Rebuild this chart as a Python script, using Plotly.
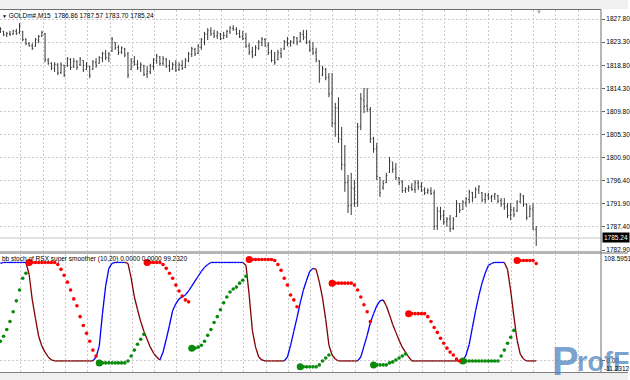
import plotly.graph_objects as go

W, H = 630, 380
ML, MR, MT, MB = 0, 27, 10, 8
PW = W - ML - MR
PH = H - MT - MB


def fx(px):
    return (px - ML) / PW


def fy(py):
    return (H - MB - py) / PH


# ---------------- data (GOLDm#, M15) ----------------
bar_open = [
    1825.3, 1825.4, 1824.7, 1825.0, 1824.9, 1825.4, 1825.1, 1825.3, 1823.8, 1823.0,
    1822.6, 1822.5, 1823.7, 1824.5, 1824.9, 1819.8, 1819.2, 1818.2, 1819.0, 1817.4,
    1818.8, 1818.7, 1819.9, 1818.5, 1819.5, 1818.9, 1819.7, 1818.0, 1818.6, 1818.0,
    1819.4, 1819.2, 1820.2, 1821.0, 1820.2, 1821.6, 1823.2, 1822.3, 1821.4, 1822.0,
    1821.0, 1818.0, 1819.5, 1819.0, 1818.4, 1818.7, 1817.1, 1817.5, 1818.6, 1819.7,
    1820.4, 1819.2, 1820.0, 1818.7, 1818.1, 1818.9, 1818.0, 1818.8, 1818.4, 1819.7,
    1820.9, 1821.9, 1821.1, 1822.3, 1823.3, 1824.8, 1825.5, 1825.0, 1824.5, 1824.9,
    1824.1, 1824.5, 1825.3, 1826.0, 1825.8, 1825.0, 1824.4, 1824.0, 1822.6, 1821.4,
    1820.8, 1822.1, 1823.2, 1823.8, 1822.7, 1821.3, 1819.7, 1819.9, 1821.1, 1822.0,
    1823.3, 1823.0, 1823.3, 1824.1, 1823.4, 1824.8, 1824.3, 1823.4, 1822.0, 1821.3,
    1819.6, 1816.9, 1818.0, 1816.5, 1813.4, 1807.5, 1810.5, 1804.4, 1799.4, 1796.1,
    1791.6, 1794.8, 1792.2, 1806.9, 1812.0, 1810.9, 1810.2, 1804.6, 1802.6, 1797.0,
    1795.0, 1796.0, 1798.0, 1800.0, 1798.8, 1796.9, 1796.1, 1794.5, 1794.7, 1795.0,
    1794.6, 1795.9, 1795.3, 1794.6, 1794.1, 1794.4, 1794.0, 1787.6, 1790.4, 1789.6,
    1788.5, 1789.0, 1787.1, 1789.4, 1791.9, 1790.8, 1792.1, 1792.7, 1794.0, 1793.2,
    1794.6, 1794.0, 1792.7, 1793.5, 1793.1, 1793.3, 1793.5, 1792.5, 1791.9, 1791.3,
    1789.7, 1790.7, 1790.5, 1792.3, 1793.4, 1791.7, 1789.4, 1790.8, 1786.86,
]
bar_high = [
    1826.2, 1825.5, 1825.3, 1825.5, 1825.7, 1825.9, 1827.0, 1825.5, 1824.1, 1823.3,
    1823.1, 1824.1, 1824.7, 1825.5, 1825.1, 1820.2, 1819.4, 1819.4, 1819.2, 1819.4,
    1818.9, 1820.4, 1820.2, 1820.2, 1819.8, 1820.4, 1819.8, 1819.4, 1818.7, 1819.8,
    1820.2, 1820.6, 1821.4, 1821.8, 1821.4, 1824.3, 1823.3, 1822.7, 1822.5, 1822.2,
    1821.4, 1820.2, 1820.6, 1819.8, 1819.4, 1818.9, 1818.7, 1819.1, 1820.2, 1821.0,
    1820.6, 1820.6, 1820.2, 1819.8, 1819.4, 1819.8, 1819.4, 1819.8, 1820.2, 1821.4,
    1822.4, 1822.2, 1822.9, 1824.1, 1825.3, 1826.0, 1826.2, 1825.7, 1825.5, 1825.1,
    1825.3, 1825.7, 1826.4, 1826.6, 1826.2, 1825.7, 1825.5, 1825.1, 1823.1, 1822.4,
    1822.7, 1823.7, 1824.3, 1824.1, 1823.3, 1821.8, 1821.4, 1821.8, 1822.2, 1823.7,
    1824.3, 1823.7, 1824.5, 1824.3, 1825.3, 1825.7, 1825.7, 1823.7, 1823.3, 1822.2,
    1819.8, 1818.7, 1818.3, 1817.3, 1817.3, 1811.5, 1812.6, 1806.8, 1803.3, 1797.5,
    1797.9, 1796.5, 1807.6, 1813.4, 1814.4, 1814.4, 1810.7, 1804.9, 1803.7, 1797.1,
    1796.5, 1797.9, 1801.0, 1800.0, 1799.8, 1797.1, 1796.5, 1795.1, 1795.5, 1795.9,
    1796.5, 1796.5, 1796.1, 1795.1, 1794.9, 1795.1, 1794.6, 1791.3, 1791.3, 1790.7,
    1789.3, 1789.7, 1789.3, 1792.6, 1792.0, 1792.6, 1793.2, 1794.6, 1794.2, 1795.1,
    1795.5, 1794.2, 1794.0, 1794.0, 1793.6, 1794.0, 1793.6, 1793.0, 1793.0, 1792.0,
    1792.0, 1791.3, 1792.6, 1794.0, 1793.6, 1792.0, 1791.6, 1792.0, 1787.57,
]
bar_low = [
    1825.1, 1824.5, 1824.3, 1824.5, 1824.7, 1824.7, 1824.9, 1823.5, 1822.7, 1822.4,
    1821.8, 1822.4, 1823.1, 1824.3, 1819.4, 1818.9, 1817.9, 1817.5, 1816.9, 1817.1,
    1816.5, 1818.5, 1817.9, 1818.3, 1817.9, 1818.7, 1817.5, 1817.9, 1816.3, 1817.9,
    1818.3, 1819.1, 1819.4, 1819.8, 1819.4, 1821.4, 1821.8, 1820.8, 1821.0, 1820.4,
    1816.3, 1817.9, 1818.7, 1817.9, 1817.5, 1816.7, 1816.3, 1817.1, 1817.9, 1819.1,
    1818.7, 1818.7, 1818.3, 1817.5, 1817.9, 1817.5, 1817.7, 1817.9, 1818.3, 1819.4,
    1820.4, 1820.6, 1821.0, 1821.8, 1822.7, 1823.7, 1824.5, 1824.1, 1823.9, 1823.7,
    1823.9, 1824.1, 1824.9, 1825.5, 1824.7, 1824.1, 1823.7, 1822.2, 1820.8, 1820.2,
    1820.6, 1821.8, 1822.5, 1822.4, 1820.8, 1819.4, 1818.9, 1819.8, 1820.2, 1821.8,
    1822.5, 1822.4, 1822.9, 1822.7, 1823.3, 1823.7, 1822.9, 1821.4, 1820.8, 1819.4,
    1815.4, 1816.7, 1815.9, 1812.6, 1806.8, 1804.9, 1803.7, 1798.4, 1794.2, 1790.1,
    1789.7, 1791.3, 1791.3, 1806.2, 1809.5, 1809.7, 1803.7, 1801.8, 1796.5, 1793.2,
    1794.6, 1795.9, 1797.9, 1797.9, 1796.5, 1795.5, 1794.0, 1794.0, 1794.2, 1794.4,
    1794.0, 1794.6, 1794.2, 1793.6, 1793.8, 1793.6, 1786.8, 1786.8, 1788.7, 1787.8,
    1787.4, 1786.4, 1786.8, 1789.3, 1790.1, 1790.7, 1791.3, 1792.0, 1792.2, 1793.0,
    1793.8, 1792.2, 1792.0, 1792.6, 1792.2, 1792.6, 1792.0, 1791.3, 1790.7, 1789.1,
    1788.7, 1789.3, 1790.3, 1792.0, 1791.3, 1788.7, 1789.3, 1786.8, 1783.70,
]
bar_close = [
    1825.9, 1824.7, 1825.0, 1824.8, 1825.5, 1825.0, 1826.6, 1823.8, 1823.0, 1822.6,
    1822.1, 1823.8, 1824.4, 1825.2, 1819.9, 1819.2, 1818.3, 1819.0, 1817.3, 1818.9,
    1816.9, 1820.0, 1818.4, 1819.6, 1818.4, 1820.0, 1817.9, 1818.8, 1816.8, 1819.5,
    1818.8, 1820.3, 1821.1, 1820.3, 1821.0, 1823.9, 1822.2, 1821.3, 1822.2, 1820.8,
    1816.9, 1819.6, 1819.0, 1818.3, 1818.9, 1817.0, 1817.6, 1818.7, 1819.8, 1820.6,
    1819.1, 1820.1, 1818.6, 1818.0, 1819.0, 1817.9, 1818.9, 1818.2, 1819.8, 1821.0,
    1822.0, 1821.0, 1822.6, 1823.8, 1824.9, 1825.6, 1824.9, 1824.5, 1825.1, 1824.0,
    1824.6, 1825.4, 1826.1, 1825.8, 1825.0, 1824.3, 1824.0, 1822.5, 1821.3, 1820.6,
    1822.2, 1823.3, 1823.9, 1822.6, 1821.2, 1819.8, 1819.3, 1821.2, 1820.6, 1823.4,
    1823.0, 1823.4, 1824.2, 1823.3, 1824.9, 1824.2, 1823.3, 1821.9, 1821.2, 1819.9,
    1816.2, 1818.2, 1816.4, 1813.2, 1807.6, 1810.6, 1804.6, 1799.5, 1796.0, 1791.5,
    1795.0, 1792.0, 1806.8, 1812.3, 1810.8, 1810.3, 1804.5, 1802.5, 1797.2, 1794.0,
    1795.8, 1797.4, 1800.2, 1798.6, 1797.0, 1796.0, 1794.5, 1794.8, 1795.1, 1794.7,
    1796.0, 1795.2, 1794.5, 1794.0, 1794.5, 1793.9, 1787.5, 1790.5, 1789.5, 1788.4,
    1788.9, 1787.0, 1788.8, 1792.0, 1790.6, 1792.2, 1792.8, 1794.2, 1793.0, 1794.7,
    1795.2, 1792.6, 1793.6, 1793.0, 1793.4, 1793.8, 1792.4, 1791.8, 1791.2, 1789.6,
    1790.8, 1789.8, 1792.2, 1793.6, 1791.8, 1789.2, 1790.9, 1787.0, 1785.24,
]

# bb stoch of RSX super smoother: main line
osc_line = (
    [99] + [100] * 8 + [88, 62, 43, 25, 15, 9, 4, 1] + [0] * 13
    + [4, 15, 48, 76, 94, 99] + [100] * 4
    + [99, 84, 65, 52, 40, 30, 22, 14, 8, 4, 1]
    + [9, 22, 36, 51, 58, 63, 65, 67, 71, 76, 81, 86, 91, 95, 98] + [100] * 11
    + [97, 67, 31, 14, 4, 1] + [0] * 7
    + [4, 16, 30, 44, 59, 72, 82, 91, 94]
    + [93, 80, 64, 42, 16, 6, 2] + [0] * 7
    + [4, 15, 26, 39, 48, 56, 61, 62]
    + [56, 47, 37, 29, 21, 14, 9, 4] + [0] * 17
    + [6, 17, 34, 51, 66, 79, 89, 97, 99] + [100] * 4
    + [93, 71, 45, 21, 7, 2] + [0] * 4
)
# green dots (rising band)
dots_up = (
    [20, 25, 32, 40, 50, 61, 72, 84, 89] + [None] * 22
    + [-2] * 9 + [0, 5, 11, 17, 22, 27] + [None] * 14
    + [13, 13, 14, 16, 20, 26, 32, 39, 45, 52, 59, 65, 70, 73, 75, 79, 82, 86] + [None] * 16
    + [-6] * 6 + [-4, 0, 3, 6] + [None] * 13
    + [-4] * 5 + [-2, -1, 1, 3, 5, 7] + [None] * 17
    + [0] * 12 + [5, 11, 18, 24, 31] + [None] * 7
)
# red dots (falling band)
dots_down = (
    [None] * 9 + [100] * 9 + [98, 93, 87, 80, 72, 63, 56, 45, 36, 28, 20, 11, 5]
    + [None] * 15 + [100] * 5 + [98, 94, 89, 84, 77, 71, 66, 62, 60]
    + [None] * 18 + [103] * 8 + [102, 98, 92, 84, 77, 67, 62, 55]
    + [None] * 10 + [79] * 7 + [77, 72, 65, 57, 50, 40]
    + [None] * 11 + [48] * 6 + [45, 40, 34, 29, 23, 18, 13, 9, 6, 2, 0]
    + [None] * 17 + [102] * 6 + [99]
)

price_ticks = [1827.8, 1823.3, 1818.8, 1814.3, 1809.8, 1805.3, 1800.9, 1796.4, 1791.9, 1787.4, 1782.9]
price_tick_text = ["1827.80", "1823.30", "1818.80", "1814.30", "1809.80", "1805.30",
                   "1800.90", "1796.40", "1791.90", "1787.40", "1782.90"]
osc_max, osc_min = 108.5951, -11.2312
last_price = 1785.24

N = len(bar_close)
assert all(len(a) == N for a in (bar_open, bar_high, bar_low, osc_line, dots_up, dots_down)), \
    [len(a) for a in (bar_open, bar_high, bar_low, bar_close, osc_line, dots_up, dots_down)]
idx = list(range(N))

FONT = "Liberation Sans"
BAR = "#383838"
GRID = "#cbcbcb"
X_RANGE = [-0.125, 188.3125]
WM = "rgba(70,128,188,0.72)"

fig = go.Figure()

fig.add_trace(go.Ohlc(
    x=idx, open=bar_open, high=bar_high, low=bar_low, close=bar_close,
    increasing=dict(line=dict(color=BAR, width=1)),
    decreasing=dict(line=dict(color=BAR, width=1)),
    tickwidth=0.3, xaxis="x", yaxis="y", hoverinfo="skip", showlegend=False,
))

# colour line segments: blue when rising, maroon when falling
up_x, up_y, dn_x, dn_y = [], [], [], []
trend = "up"
for i in range(N - 1):
    a, b = osc_line[i], osc_line[i + 1]
    if b > a:
        trend = "up"
    elif b < a:
        trend = "dn"
    if trend == "up":
        up_x += [i, i + 1, None]; up_y += [a, b, None]
    else:
        dn_x += [i, i + 1, None]; dn_y += [a, b, None]

fig.add_trace(go.Scatter(x=up_x, y=up_y, mode="lines", line=dict(color="#0000ff", width=1.3),
                         xaxis="x2", yaxis="y2", hoverinfo="skip", showlegend=False))
fig.add_trace(go.Scatter(x=dn_x, y=dn_y, mode="lines", line=dict(color="#800000", width=1.3),
                         xaxis="x2", yaxis="y2", hoverinfo="skip", showlegend=False))


def dot_traces(vals, color):
    xs = [i for i, v in enumerate(vals) if v is not None]
    ys = [vals[i] for i in xs]
    bx = [i for i in xs if i > 0 and vals[i - 1] is None]
    by = [vals[i] for i in bx]
    fig.add_trace(go.Scatter(x=xs, y=ys, mode="markers", marker=dict(color=color, size=3.6, line=dict(width=0)),
                             xaxis="x2", yaxis="y2", hoverinfo="skip", showlegend=False))
    fig.add_trace(go.Scatter(x=bx, y=by, mode="markers", marker=dict(color=color, size=7, line=dict(width=0)),
                             xaxis="x2", yaxis="y2", hoverinfo="skip", showlegend=False))


dot_traces(dots_up, "#0a8a0a")
dot_traces(dots_down, "#ff0000")

grid_x = dict(showticklabels=False, showgrid=True, gridcolor=GRID, griddash="2px,2px", gridwidth=1,
              tick0=6.4375, dtick=6.9875, ticks="", zeroline=False, showline=False,
              range=X_RANGE, fixedrange=True)

fig.update_layout(
    width=W, height=H,
    margin=dict(l=ML, r=MR, t=MT, b=MB, pad=0),
    paper_bgcolor="white", plot_bgcolor="white",
    font=dict(family=FONT, size=6.5, color="black"),
    showlegend=False,
    xaxis=dict(anchor="y", domain=[0, 1], rangeslider=dict(visible=False), **grid_x),
    xaxis2=dict(anchor="y2", domain=[0, 1], **grid_x),
    yaxis=dict(domain=[fy(251), 1.0], range=[1782.709, 1829.549], side="right",
               tickvals=price_ticks, ticktext=price_tick_text, ticks="outside", ticklen=3,
               tickcolor="#606060", tickfont=dict(family=FONT, size=6.5, color="black"),
               showgrid=True, gridcolor=GRID, griddash="2px,2px", zeroline=False, showline=False,
               fixedrange=True),
    yaxis2=dict(domain=[0, fy(254)], range=[osc_min, osc_max], side="right",
                tickvals=[0], ticktext=["0.00"], ticks="outside", ticklen=3, tickcolor="#606060",
                tickfont=dict(family=FONT, size=6.5, color="black"),
                showgrid=True, gridcolor=GRID, griddash="2px,2px", zeroline=False, showline=False,
                fixedrange=True),
)

shapes = [
    dict(type="rect", xref="paper", yref="paper", x0=fx(0), x1=fx(630), y0=fy(9), y1=fy(0),
         fillcolor="#f0f0f0", line=dict(width=0)),
    dict(type="line", xref="paper", yref="paper", x0=fx(0), x1=fx(603), y0=fy(9.5), y1=fy(9.5),
         line=dict(color="#6e6e6e", width=1)),
    dict(type="line", xref="x", yref="y", x0=X_RANGE[0], x1=X_RANGE[1], y0=last_price, y1=last_price,
         line=dict(color="#c4c4c4", width=1)),
    dict(type="line", xref="paper", yref="paper", x0=fx(0), x1=fx(603), y0=fy(251.5), y1=fy(251.5),
         line=dict(color="#b8b8b8", width=1)),
    dict(type="line", xref="paper", yref="paper", x0=fx(0), x1=fx(630), y0=fy(253), y1=fy(253),
         line=dict(color="#6a6a6a", width=1.2)),
    dict(type="line", xref="paper", yref="paper", x0=fx(603), x1=fx(603), y0=fy(9.5), y1=fy(372.5),
         line=dict(color="#6e6e6e", width=1)),
    dict(type="rect", xref="paper", yref="paper", x0=fx(0), x1=fx(630), y0=fy(380), y1=fy(373),
         fillcolor="#f0f0f0", line=dict(width=0)),
    dict(type="line", xref="paper", yref="paper", x0=fx(0), x1=fx(630), y0=fy(372.5), y1=fy(372.5),
         line=dict(color="#808080", width=1)),
]
fig.update_layout(shapes=shapes)

ann = [
    dict(text="<b>P</b>", x=fx(553), y=fy(338), xanchor="left", yanchor="top",
         font=dict(family=FONT, size=40, color=WM)),
    dict(text="<b>rofF</b>", x=fx(578), y=fy(346), xanchor="left", yanchor="top",
         font=dict(family=FONT, size=27, color=WM)),
    dict(text="<span style='font-size:5px'>▼</span> GOLDm#,M15&nbsp; 1786.86 1787.57 1783.70 1785.24",
         x=fx(1), y=fy(16), xanchor="left", yanchor="middle"),
    dict(text="bb stoch of RSX super smoother (10,20) 0.0000 0.0000 99.2320",
         x=fx(1), y=fy(259), xanchor="left", yanchor="middle"),
    dict(text="108.5951", x=fx(605), y=fy(258), xanchor="left", yanchor="middle"),
    dict(text="-11.2312", x=fx(605), y=fy(368), xanchor="left", yanchor="middle"),
    dict(text="▼", x=fx(541), y=fy(11.5), xanchor="center", yanchor="middle",
         font=dict(size=6, color="#a8a8a8")),
]
for a in ann:
    a.setdefault("xref", "paper")
    a.setdefault("yref", "paper")
    a.setdefault("showarrow", False)
    a.setdefault("font", dict(family=FONT, size=6.5, color="black"))
    a["borderpad"] = 0
    fig.add_annotation(**a)

fig.add_annotation(text="1785.24", xref="paper", yref="y", x=fx(604), y=last_price,
                   xanchor="left", yanchor="middle", showarrow=False, bgcolor="black",
                   borderpad=1, font=dict(family=FONT, size=6.5, color="white"))

fig.write_html("out.html")
